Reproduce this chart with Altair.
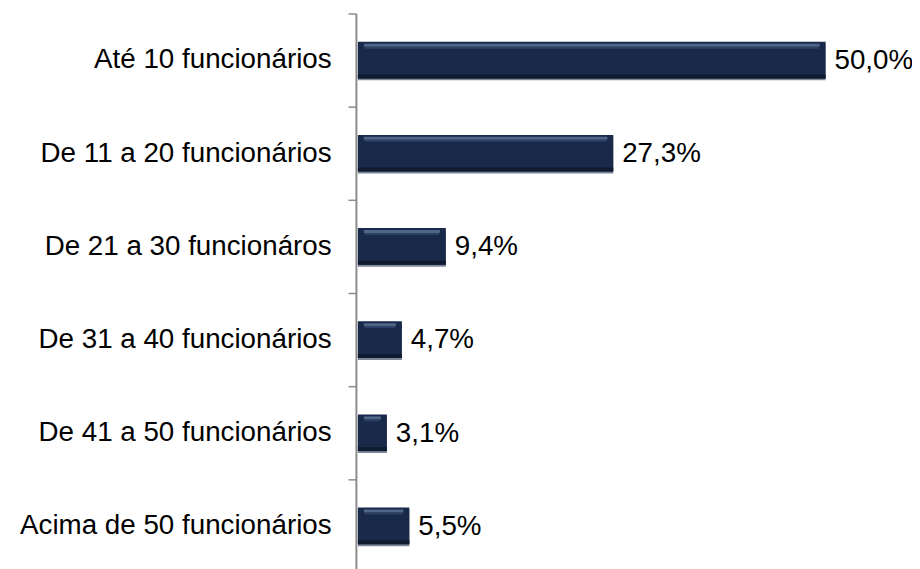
import altair as alt
import pandas as pd

categories = [
    "Até 10 funcionários",
    "De 11 a 20 funcionários",
    "De 21 a 30 funcionáros",
    "De 31 a 40 funcionários",
    "De 41 a 50 funcionários",
    "Acima de 50 funcionários",
]
values = [50.0, 27.3, 9.4, 4.7, 3.1, 5.5]
labels = ["50,0%", "27,3%", "9,4%", "4,7%", "3,1%", "5,5%"]

df = pd.DataFrame({"cat": categories, "val": values, "lab": labels})

FONT = "Liberation Sans"
FS = 28

y = alt.Y(
    "cat:N",
    sort=categories,
    title=None,
    scale=alt.Scale(paddingInner=0, paddingOuter=0),
    axis=alt.Axis(
        domainColor="#8c8c8c",
        domainWidth=2,
        tickColor="#8c8c8c",
        tickWidth=1.5,
        tickSize=8,
        tickBand="extent",
        labelPadding=17,
        labelFont=FONT,
        labelFontSize=FS,
        labelColor="#000000",
        labelLimit=400,
        grid=False,
    ),
)
x = alt.X("val:Q", title=None, scale=alt.Scale(domain=[0, 55]), axis=None)
x2 = alt.X2("base:Q")

base = alt.Chart(df).transform_calculate(base="0")


def layer(color, xo, x2o, yo, size):
    return base.mark_bar(
        color=color, xOffset=xo, x2Offset=x2o, yOffset=yo, size=size
    ).encode(x=x, x2=x2, y=y)


shadow = layer("#7c8797", 2, 2, 2, 37)
bar = layer("#18294a", 2, 2, 0, 37)
dark = layer("#111b2f", 2, 2, 16.5, 4)
hi = layer("#4f6689", -4, 8, -15, 3)
hi2 = layer("#2c4164", -5, 9, -12.5, 2)
text = base.mark_text(
    align="left", baseline="middle", dx=11, dy=1, font=FONT, fontSize=FS, color="#000000"
).encode(x=x, y=y, text="lab:N")

chart = (
    alt.layer(shadow, bar, dark, hi, hi2, text)
    .properties(
        width=519,
        height=564,
        autosize="none",
        background="white",
        padding={"left": 351, "top": 3, "right": 42, "bottom": 0},
    )
    .configure_view(strokeWidth=0, stroke="transparent")
)

chart.save("out.html", embed_options={"renderer": "svg", "actions": False})
